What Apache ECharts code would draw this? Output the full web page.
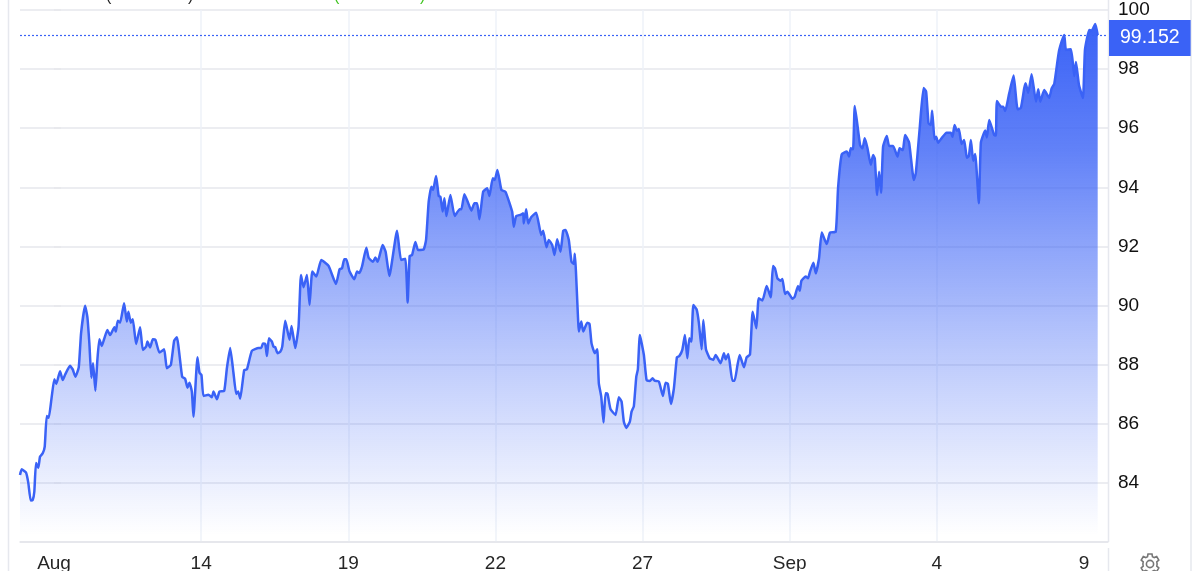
<!DOCTYPE html>
<html><head><meta charset="utf-8">
<style>html,body{margin:0;padding:0;background:#fff;overflow:hidden}#c{width:1200px;height:571px}</style>
<script src="https://cdn.jsdelivr.net/npm/echarts@6/dist/echarts.min.js"></script>
</head><body><div id="c"></div>
<script>
const tickLabels = ['Aug','14','19','22','27','Sep','4','9'];
const tickStep = 147;
const lastPrice = 99.152;
const times = [
-34,-32.3,-28,-25.7,-23.3,-21.3,-19.7,-18,-15.7,-14,-11.3,-9.3,-7.3,-5.3,-2.3,0.3,2.3,6,8.7,11.3,16,18.7,21.3,24.7,27,31,33.3,35.3,37.3,39,41.3,43.3,45.3,47.7,50,53.3,56,60.3,61.7,63.7,66,70,72.7,74.3,76.7,78.7,82,86,88.7,92,93.3,96,98.7,101.3,105.3,110,112.7,116.7,120,122.7,128,131,133.3,135.3,137.7,139.3,143.3,145.3,147.3,149.3,154.3,157.7,159.3,162.7,165.3,170,172.7,176,179.3,182,184,186,190,192.7,197.7,204.3,207,208.7,211,212.7,214.7,217.7,219.3,221,223.3,226,228,231,235.3,237.3,241,244.3,
246.7,249.3,252.7,255.3,258,262,267,274.3,281.7,285.3,287.7,290,292,295.3,300,302.7,305,307.7,312,314.3,318.7,321,323.3,328.3,331.3,335,342.7,346.7,351,353.3,355.3,357.7,361,363.7,369.3,371.7,374.3,377,378.7,381.7,384.3,386,388.3,390,392,396,400.3,405.3,407,410,413.3,417,420,422.7,425,428.7,432.7,435,438.3,440.3,443,447,451,457.7,459.3,461.7,466,468.7,469.3,471.7,473.7,476.7,481.7,486.7,488.7,492,494.3,497.7,500,502.7,506,508.7,511,514.3,517,519.3,520.3,523.6,
524.3,526.7,528.7,532.7,535,537,540.3,542.7,544.3,546.7,549,551,553,556,561,564.3,567,569.3,571.7,575.3,577,579.3,581.7,583.3,585.3,589.3,592,595.3,598,600,604.3,608.3,611,613.3,616.3,619.3,622.3,624.7,627.7,630.3,632.7,634.7,636.7,638.7,642,644.3,647,648.7,651.3,655,658.7,661,666,669.3,671,673.7,677.7,680,682.7,685,689.3,692,695.3,698,701.7,704,707.7,712,716,718.3,720.3,722.7,726,727.7,730.3,732.7,737.7,740,743.3,745,746.7,751,753.3,755.3,758.7,761,764.3,767,772,775.3,781,
783.3,787,792,794.3,796,798.3,800,805.3,807.7,810,812.7,816,818.3,820,822.3,824.3,826.3,828.3,832,834.3,838.3,842.7,844.7,848,850.3,854.3,859,861,865,868.7,871.3,873.7,876,877.3,879.7,881.3,883.3,886.7,891.7,896,897.7,899.7,902,904,906.7,909.3,912,914,916,918.3,920.3,924,926,930.3,932,934.3,939.3,941,942,946,948.3,950.3,954.3,958.7,962.7,966,969.3,970.7,973.3,976.7,981,983.3,985.3,989.3,994.3,996.7,999.3,1002.7,1004.3,1009.3,1011,1016,1019.3,1021,1024,1028,1030,1034.3,1036.7,1040.3,1042.7
];
const prices = [
84.27,84.46,84.35,84.00,83.40,83.42,83.70,84.67,84.51,84.89,85.00,85.23,86.26,86.20,86.92,87.51,87.35,87.78,87.48,87.68,87.96,87.84,87.59,87.91,89.06,89.99,89.62,88.72,87.56,88.05,87.12,88.16,88.86,88.63,88.86,89.17,89.00,89.27,89.12,89.49,89.42,90.08,89.46,89.79,89.42,89.54,88.70,89.27,88.50,88.61,88.78,88.58,88.86,88.84,88.41,88.52,87.88,87.99,88.81,88.93,87.59,87.52,87.22,87.39,87.09,86.24,88.25,87.73,87.65,86.94,86.98,86.90,87.09,86.83,87.09,87.11,87.88,88.56,87.71,87.01,87.09,86.85,87.82,87.84,88.47,88.56,88.56,88.72,88.70,88.29,88.89,88.78,88.61,88.59,88.39,88.44,88.61,89.49,88.84,89.31,88.56,89.29,
91.03,90.62,91.03,90.02,91.15,90.98,91.54,91.34,90.73,91.23,91.26,91.57,91.57,91.15,90.89,91.15,91.10,91.32,91.96,91.62,91.48,91.63,91.48,92.05,91.82,91.00,92.53,91.54,91.58,90.10,91.68,91.71,92.15,91.88,91.90,92.22,93.51,94.02,93.91,94.38,93.71,93.68,93.18,93.63,93.03,93.74,93.03,93.26,93.26,93.77,93.51,93.21,93.46,93.46,92.92,93.85,93.97,93.71,94.31,94.25,94.59,93.91,93.85,93.18,92.67,93.03,93.07,93.12,92.78,93.26,92.78,92.99,93.14,92.39,92.53,91.97,92.22,92.05,91.71,92.24,91.82,92.53,92.56,92.22,91.48,91.41,91.75,89.51,
89.12,89.46,89.12,89.42,89.38,88.72,88.39,88.52,87.37,86.92,86.04,87.03,87.01,86.49,86.30,86.90,86.75,86.07,85.86,86.07,86.41,86.60,87.59,87.84,89.00,88.33,87.48,87.45,87.54,87.46,87.43,86.94,87.39,87.35,86.67,87.20,88.25,88.29,88.50,89.00,88.22,88.89,88.78,90.02,89.87,89.40,88.52,89.51,88.52,88.22,88.16,88.33,88.05,88.39,88.18,88.36,87.46,87.46,87.96,88.33,87.91,88.25,88.34,89.79,89.23,90.25,90.17,90.66,90.28,91.34,91.26,90.92,90.84,90.90,90.39,90.47,90.23,90.30,90.66,90.50,90.84,90.98,90.92,91.15,91.45,91.09,91.60,92.47,92.08,92.47,92.50,
93.97,95.12,95.21,95.04,95.32,95.29,96.75,95.43,95.32,95.66,95.32,94.76,95.09,94.98,93.74,94.53,93.82,95.38,95.74,95.40,95.40,95.04,95.32,95.26,95.77,95.51,94.25,94.48,96.05,97.36,97.24,96.17,96.11,96.59,95.63,95.71,95.51,95.66,95.85,95.85,95.71,96.11,95.92,95.97,95.47,95.60,95.00,95.06,95.60,94.90,95.13,93.46,95.51,95.92,95.69,96.28,95.77,95.75,96.92,96.73,96.73,96.58,97.18,97.78,96.64,96.69,97.35,97.52,97.20,97.83,96.90,97.32,96.90,97.29,97.03,97.35,97.50,98.31,98.65,99.15,98.65,98.67,97.77,98.24,97.46,97.02,98.65,99.32,99.30,99.53,99.15
];
const n = Math.min(times.length, prices.length);
const points = times.slice(0, n).map((t, i) => [t, prices[i]]);
const tickValues = tickLabels.map((_, i) => i * tickStep);
const blue = '#3a62f6';
const chart = echarts.init(document.getElementById('c'), null, {renderer:'canvas'});
const frame = '#e6e8ee';
const vline = (x, y1, y2) => ({type:'line', shape:{x1:x, y1:y1, x2:x, y2:y2}, style:{stroke:frame, lineWidth:1.5}, silent:true});
const paren = (x, ch, color) => ({type:'text', x:x, y:-11, style:{text:ch, font:'16px "Liberation Sans"', fill:color}, silent:true});
const gearOutline = [[10,2],[14,2],[14.5,4.7],[16.2,5.6],[18.7,4.5],[20.8,8],[18.8,9.8],[19.1,12],[18.8,14.2],[20.8,16],[18.7,19.5],[16.2,18.4],[14.5,19.3],[14,22],[10,22],[9.5,19.3],[7.8,18.4],[5.3,19.5],[3.2,16],[5.2,14.2],[4.9,12],[5.2,9.8],[3.2,8],[5.3,4.5],[7.8,5.6],[9.5,4.7]];
chart.setOption({
  animation:false,
  grid:{left:20, right:92, top:10, bottom:29, outerBoundsMode:'none'},
  textStyle:{fontFamily:'"Liberation Sans", Arial, sans-serif'},
  xAxis:{
    type:'value', min:-34, max:1053,
    axisLine:{show:true, lineStyle:{color:'#e4e5ea', width:1.5}},
    axisTick:{show:false, customValues:tickValues},
    axisLabel:{show:true, fontSize:19, color:'#262626', margin:12, customValues:tickValues,
      formatter:v => tickLabels[Math.round(v/tickStep)]},
    splitLine:{show:true, showMinLine:false, showMaxLine:false, lineStyle:{color:'#eef2f9', width:1.5}}
  },
  yAxis:{
    type:'value', position:'right', min:82, max:100, interval:2,
    axisLine:{show:false},
    axisTick:{show:true, length:7, lineStyle:{color:'#e6e7ec', width:1.5}},
    axisLabel:{show:true, fontSize:19, color:'#111', margin:10,
      formatter:v => v === 82 ? '' : String(v)},
    splitLine:{show:true, lineStyle:{color:'#e6e7ec', width:1.5}}
  },
  graphic:[
    vline(8.5,0,571), vline(1191,0,571), vline(1108.5,0,542), vline(1108.5,548,571),
    paren(106,'(','#222'), paren(188,')','#222'), paren(334,'(','#3fc41f'), paren(420,')','#3fc41f'),
    {type:'group', x:1138, y:552, silent:true, children:[
      {type:'polygon', shape:{points:gearOutline}, style:{fill:'none', stroke:'#777', lineWidth:1.6}},
      {type:'circle', shape:{cx:12, cy:12, r:3.6}, style:{fill:'none', stroke:'#777', lineWidth:1.6}}
    ]}
  ],
  series:[{
    type:'line', data:points, showSymbol:false, smooth:0.15, clip:false,
    lineStyle:{color:blue, width:2.5},
    itemStyle:{color:blue},
    areaStyle:{opacity:1, color:{type:'linear', x:0, y:0, x2:0, y2:1, colorStops:[
      {offset:0, color:'rgba(58,98,246,1)'},
      {offset:0.243, color:'rgba(58,98,246,0.8)'},
      {offset:0.436, color:'rgba(58,98,246,0.57)'},
      {offset:0.63, color:'rgba(58,98,246,0.35)'},
      {offset:0.82, color:'rgba(58,98,246,0.16)'},
      {offset:0.986, color:'rgba(58,98,246,0)'},
      {offset:1, color:'rgba(58,98,246,0)'}
    ]}},
    markLine:{
      silent:true, symbol:'none', animation:false,
      lineStyle:{color:blue, type:[2,2], width:1.2},
      label:{show:true, position:'end', distance:1, offset:[0,3], formatter:()=>String(lastPrice),
        backgroundColor:blue, color:'#fff', fontSize:19.5, padding:[8,11,8,11], fontFamily:'"Liberation Sans"'},
      data:[{yAxis:lastPrice}]
    }
  }]
});
</script></body></html>
